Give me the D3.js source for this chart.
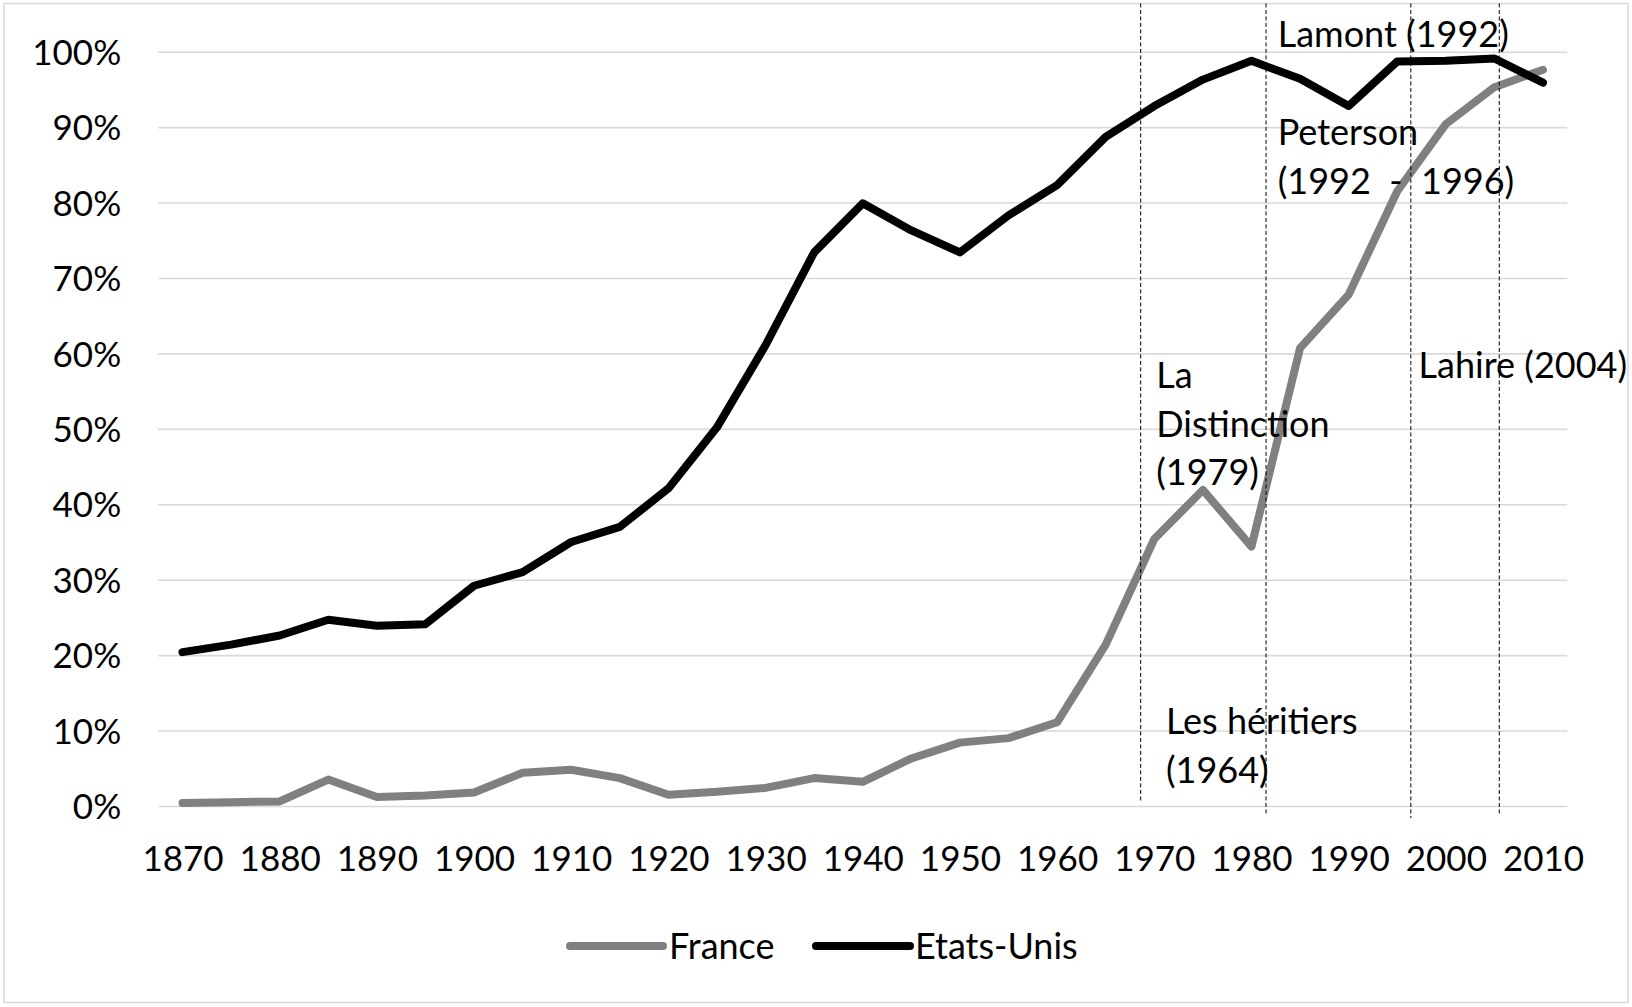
<!DOCTYPE html>
<html>
<head>
<meta charset="utf-8">
<script src="https://cdn.jsdelivr.net/npm/d3@7"></script>
<style>
  html, body { margin: 0; padding: 0; background: #fff; }
  svg { display: block; }
  text { font-family: Lato, "Open Sans", sans-serif; fill: #000; }
</style>
</head>
<body>
<svg id="chart" width="1632" height="1007"></svg>
<script>
// ---- data ----
const years = [1870,1875,1880,1885,1890,1895,1900,1905,1910,1915,1920,1925,1930,1935,1940,1945,1950,1955,1960,1965,1970,1975,1980,1985,1990,1995,2000,2005,2010];
const france = [0.4,0.5,0.6,3.5,1.2,1.4,1.8,4.4,4.8,3.7,1.5,1.9,2.4,3.7,3.2,6.3,8.4,9.0,11.1,21.4,35.4,41.9,34.4,60.7,67.8,81.5,90.4,95.3,97.6];
const usa = [20.4,21.4,22.6,24.7,23.9,24.1,29.2,31.0,35.0,37.0,42.1,50.2,61.1,73.4,79.9,76.3,73.4,78.3,82.3,88.7,92.8,96.3,98.8,96.4,92.8,98.7,98.8,99.1,95.9];
const yTicks = [0,10,20,30,40,50,60,70,80,90,100];
const xLabels = [1870,1880,1890,1900,1910,1920,1930,1940,1950,1960,1970,1980,1990,2000,2010];
const seriesNames = ["France", "Etats-Unis"];
const seriesColors = ["#808080", "#000000"];
// annotation guide lines: year position, from/to in % units
const guideYears = [1968.6, 1981.5, 1996.4, 2005.5];
const guideBottoms = [0.6, -1.2, -1.6, -1.2];
const guideTop = 106.4;
// annotation texts (anchor year, value %, lines)
const notes = [
  { year: 1982.7, value: 100.6, lines: ["Lamont (1992)"] },
  { year: 1982.7, value: 87.6, lines: ["Peterson", "(1992  -  1996)"] },
  { year: 1997.2, value: 56.8, lines: ["Lahire (2004)"] },
  { year: 1970.2, value: 55.4, lines: ["La", "Distinction", "(1979)"] },
  { year: 1971.2, value: 9.5, lines: ["Les héritiers", "(1964)"] }
];

// ---- layout ----
const svg = d3.select("#chart");
const plot = { left: 158.2, right: 1567.3, top: 51.7, bottom: 806 };

const x = d3.scalePoint().domain(years).range([plot.left, plot.right]).padding(0.5);
const xYear = d3.scaleLinear().domain([years[0], years[years.length-1]]).range([x(years[0]), x(years[years.length-1])]);
const y = d3.scaleLinear().domain([0, 100]).range([plot.bottom, plot.top]);

// outer border
svg.append("rect")
  .attr("x", 4).attr("y", 3.5).attr("width", 1624).attr("height", 999)
  .attr("fill", "none").attr("stroke", "#d9d9d9").attr("stroke-width", 1.5);

// gridlines
svg.append("g")
  .attr("transform", `translate(${plot.left},0)`)
  .call(d3.axisLeft(y).tickValues(yTicks).tickSize(-(plot.right - plot.left)).tickFormat(""))
  .call(g => g.select(".domain").remove())
  .call(g => g.selectAll("line").attr("stroke", "#d9d9d9").attr("stroke-width", 1.6));

// y axis labels
svg.append("g")
  .attr("transform", `translate(${plot.left},0)`)
  .call(d3.axisLeft(y).tickValues(yTicks).tickSize(0).tickPadding(37).tickFormat(d => d + "%"))
  .call(g => g.select(".domain").remove())
  .call(g => g.selectAll("text").attr("font-size", 35).attr("font-family", "Lato").attr("fill", "#000").attr("dy", "0.36em"));

// x axis labels
svg.append("g")
  .attr("transform", `translate(0,${plot.bottom})`)
  .call(d3.axisBottom(x).tickValues(xLabels).tickSize(0))
  .call(g => g.select(".domain").remove())
  .call(g => g.selectAll("text").attr("font-size", 35).attr("font-family", "Lato").attr("fill", "#000")
    .attr("y", 52.6).attr("dy", "0.36em"));

// series lines
const line = d3.line().x((d, i) => x(years[i])).y(d => y(d));
[france, usa].forEach((s, k) => {
  svg.append("path")
    .datum(s)
    .attr("d", line)
    .attr("fill", "none")
    .attr("stroke", seriesColors[k])
    .attr("stroke-width", 8)
    .attr("stroke-linejoin", "round")
    .attr("stroke-linecap", "round");
});

// guide lines
svg.append("g").selectAll("line")
  .data(guideYears)
  .join("line")
  .attr("x1", d => xYear(d)).attr("x2", d => xYear(d))
  .attr("y1", y(guideTop)).attr("y2", (d, i) => y(guideBottoms[i]))
  .attr("stroke", "#000").attr("stroke-width", 1).attr("stroke-dasharray", "4,2.5");

// annotation texts
const noteG = svg.append("g");
notes.forEach(n => {
  const t = noteG.append("text")
    .attr("x", xYear(n.year)).attr("y", y(n.value))
    .attr("font-size", 36)
    .style("white-space", "pre");
  n.lines.forEach((ln, i) => {
    t.append("tspan").attr("x", xYear(n.year)).attr("dy", i === 0 ? 0 : 48.5).text(ln);
  });
});

// legend
const legendItems = [
  { name: seriesNames[0], color: seriesColors[0], x1: 570, x2: 663, tx: 669 },
  { name: seriesNames[1], color: seriesColors[1], x1: 816, x2: 910, tx: 915 }
];
const legY = 946;
const lg = svg.append("g");
legendItems.forEach(it => {
  lg.append("line").attr("x1", it.x1).attr("x2", it.x2).attr("y1", legY).attr("y2", legY)
    .attr("stroke", it.color).attr("stroke-width", 8).attr("stroke-linecap", "round");
  lg.append("text").attr("x", it.tx).attr("y", legY).attr("dy", "0.36em")
    .attr("font-size", 36).text(it.name);
});
</script>
</body>
</html>
